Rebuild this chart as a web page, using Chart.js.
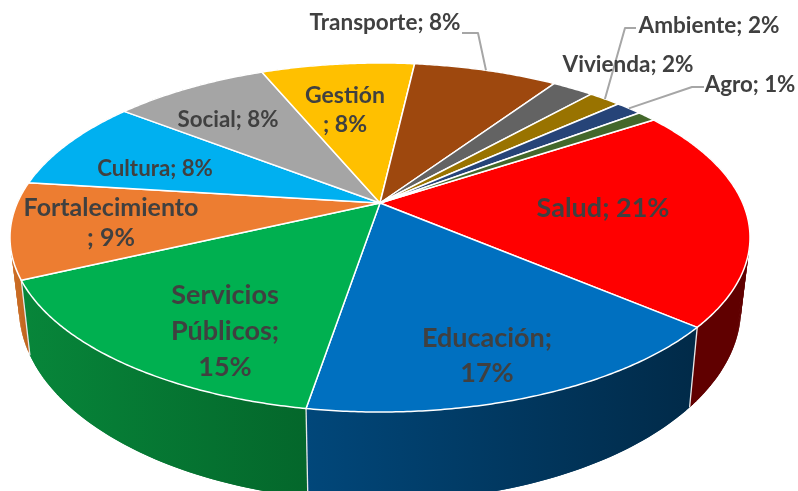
<!DOCTYPE html>
<html>
<head>
<meta charset="utf-8">
<script src="https://cdn.jsdelivr.net/npm/chart.js@4"></script>
<style>
  html, body { margin: 0; padding: 0; background: #fff; overflow: hidden; }
  canvas { display: block; filter: blur(0.45px); }
</style>
</head>
<body>
<canvas id="pie3d" width="798" height="491"></canvas>
<script>
const categories = ["Salud", "Educación", "Servicios Públicos", "Fortalecimiento", "Cultura", "Social", "Gestión", "Transporte", "Vivienda", "Ambiente", "Agro", "Otros"];
const shares = [20.4, 16.4, 15.4, 8.9, 8.5, 8.2, 8.1, 7.6, 2.2, 1.7, 1.4, 1.0];
const sliceColors = ["#ff0000", "#0070c0", "#00b050", "#ed7d31", "#00b0f0", "#a5a5a5", "#ffc000", "#9e480e", "#636363", "#997300", "#264478", "#43682b"];
const wallLeft = ["#600000", "#01477a", "#07863a", "#cf6f26", "#006a90", "#636363", "#997300", "#5f2b08", "#3b3b3b", "#5c4500", "#162948", "#283e1a"];
const wallRight = ["#600000", "#012a48", "#04672b", "#c0651f", "#006a90", "#636363", "#997300", "#5f2b08", "#3b3b3b", "#5c4500", "#162948", "#283e1a"];

// text of each label, one entry per line
const labelLines = [["Salud; 21%"], ["Educación;", "17%"], ["Servicios", "Públicos;", "15%"], ["Fortalecimiento", "; 9%"], ["Cultura; 8%"], ["Social; 8%"], ["Gestión", "; 8%"], ["Transporte; 8%"], ["Vivienda; 2%"], ["Ambiente; 2%"], ["Agro; 1%"]];
const labelSpots = [[603, 208], [487, 338], [225, 295], [111, 208], [155, 169], [228, 120], [345, 96], [385, 23], [628, 65], [709, 26], [750, 85]];
const labelGaps = [0, 35, 36, 30, 0, 0, 29, 0, 0, 0, 0];
const labelSizes = [27, 27, 27, 25, 22.3, 22.3, 23, 22.5, 22.5, 22.5, 22.3];

// slice index -> bend points of the leader line, label end last
const leaders = { 7: [[478, 33], [462, 33]], 9: [[625, 28], [636, 28]], 10: [[692, 87], [704, 87]] };

const cx = 380, cy = 203;
const tiltK = -0.1977, rimA = 167.7, rimB = 362.7;

// unit circle angle -> screen point on the top face
function topPoint(a) {
  const d = 1 + tiltK * Math.sin(a);
  return [cx + rimB * Math.cos(a) / d, cy + rimA * Math.sin(a) / d];
}

// same angle on the lower rim of the wall
function lowPoint(a) {
  const p = topPoint(a);
  return [cx + (p[0] - cx) * 0.976, cy + (p[1] - cy) * 1.109 + 66.5];
}

const pie3d = {
  id: "pie3d",
  beforeDatasetsDraw(chart) {
    const ctx = chart.ctx;
    const arcs = chart.getDatasetMeta(0).data;
    const steps = a => Math.max(4, Math.ceil((a.endAngle - a.startAngle) * 60));

    // walls, back ones first
    const order = arcs.map((a, i) => i).sort((i, j) =>
      Math.sin((arcs[i].startAngle + arcs[i].endAngle) / 2) - Math.sin((arcs[j].startAngle + arcs[j].endAngle) / 2));
    order.forEach(i => {
      const a = arcs[i], n = steps(a);
      const span = a.endAngle - a.startAngle;
      const xs = [];
      for (let s = 0; s <= n; s++) xs.push(topPoint(a.startAngle + span * s / n)[0]);
      const grad = ctx.createLinearGradient(Math.min(...xs), 0, Math.max(...xs), 0);
      grad.addColorStop(0, wallLeft[i]);
      grad.addColorStop(1, wallRight[i]);
      ctx.fillStyle = grad;
      for (let s = 0; s < n; s++) {
        // each quad overlaps the next one so no hairlines show between them
        const a0 = a.startAngle + span * s / n;
        const a1 = a.startAngle + span * Math.min(s + 2, n) / n;
        const q = [topPoint(a0), topPoint(a1), lowPoint(a1), lowPoint(a0)];
        ctx.beginPath();
        q.forEach((p, k) => k ? ctx.lineTo(p[0], p[1]) : ctx.moveTo(p[0], p[1]));
        ctx.closePath();
        ctx.fill();
      }
    });
    // seams between front walls
    arcs.forEach(a => {
      if (Math.sin(a.endAngle) < 0.2) return;
      const t = topPoint(a.endAngle), b = lowPoint(a.endAngle);
      ctx.beginPath();
      ctx.moveTo(t[0], t[1]);
      ctx.lineTo(b[0], b[1]);
      ctx.strokeStyle = "#e8e8e8";
      ctx.lineWidth = 1.3;
      ctx.stroke();
    });

    // top face
    arcs.forEach((a, i) => {
      const n = steps(a) * 2;
      ctx.beginPath();
      ctx.moveTo(cx, cy);
      for (let s = 0; s <= n; s++) {
        const p = topPoint(a.startAngle + (a.endAngle - a.startAngle) * s / n);
        ctx.lineTo(p[0], p[1]);
      }
      ctx.closePath();
      ctx.fillStyle = sliceColors[i];
      ctx.fill();
      ctx.strokeStyle = "#ffffff";
      ctx.lineWidth = 1.5;
      ctx.lineJoin = "round";
      ctx.stroke();
    });

    // leader lines start on the rim at the middle of their slice
    ctx.strokeStyle = "#a6a6a6";
    ctx.lineWidth = 2;
    Object.keys(leaders).forEach(i => {
      const a = arcs[i];
      const p = topPoint((a.startAngle + a.endAngle) / 2);
      ctx.beginPath();
      ctx.moveTo(p[0], p[1]);
      leaders[i].forEach(b => ctx.lineTo(b[0], b[1]));
      ctx.stroke();
    });

    // labels
    ctx.fillStyle = "#404040";
    ctx.textAlign = "center";
    ctx.textBaseline = "middle";
    labelLines.forEach((lines, i) => {
      ctx.font = "bold " + labelSizes[i] + "px Lato";
      lines.forEach((t, k) => ctx.fillText(t, labelSpots[i][0], labelSpots[i][1] + k * labelGaps[i]));
    });
    return false;
  }
};

new Chart(document.getElementById("pie3d"), {
  type: "pie",
  data: {
    labels: categories,
    datasets: [{ data: shares, backgroundColor: sliceColors }]
  },
  options: {
    responsive: false,
    animation: false,
    rotation: 56.7,
    plugins: { legend: { display: false }, tooltip: { enabled: false } }
  },
  plugins: [pie3d]
});
</script>
</body>
</html>
